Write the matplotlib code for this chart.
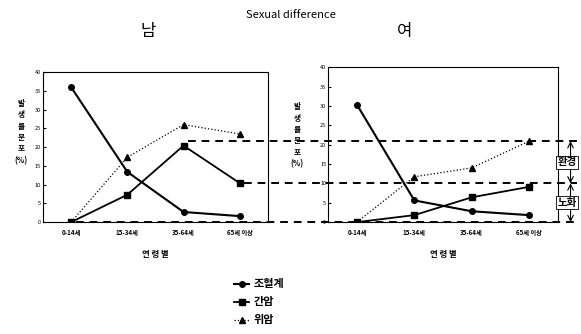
import matplotlib.pyplot as plt
from matplotlib.lines import Line2D

plt.rcParams['font.family'] = ['Noto Sans CJK KR', 'DejaVu Sans']

AGE_GROUPS = ["0-14세", "15-34세", "35-64세", "65세 이상"]
SERIES     = ["조혈계", "간암", "위암"]
YLABEL     = ["발", "생", "률", "분", "포", "(%)"]

# incidence share (%)
male_blood   = [36.0, 13.4, 2.7, 1.6]
male_liver   = [0.0, 7.3, 20.4, 10.4]
male_stomach = [0.0, 17.3, 26.0, 23.5]

female_blood   = [30.3, 5.6, 2.8, 1.8]
female_liver   = [0.0, 1.8, 6.4, 9.1]
female_stomach = [0.0, 11.7, 14.0, 20.9]

REF_LEVELS  = [20.9, 10.0, 0.0]      # dashed guide lines (female axis units)
REF_START   = [2, 3, 0]              # male x index each guide starts from
BAND_LABELS = ["환경", "노화"]

STYLES = [dict(marker="o", ls="-",  lw=1.5, ms=4),
          dict(marker="s", ls="-",  lw=1.3, ms=4),
          dict(marker="^", ls=":",  lw=0.9, ms=4)]

fig = plt.figure(figsize=(5.81, 3.34), dpi=100)
ax_m = fig.add_axes([0.074, 0.335, 0.387, 0.449])
ax_f = fig.add_axes([0.565, 0.335, 0.395, 0.464])

x = range(len(AGE_GROUPS))
handles = []
for ax, data in [(ax_m, [male_blood, male_liver, male_stomach]),
                 (ax_f, [female_blood, female_liver, female_stomach])]:
    handles = []
    for vals, st in zip(data, STYLES):
        h, = ax.plot(x, vals, color="black", **st)
        handles.append(h)
    ax.set_xlim(-0.5, 3.5)
    ax.set_ylim(0, 40)
    ax.set_yticks(range(0, 41, 5))
    ax.set_xticks(list(x))
    ax.set_xticklabels(AGE_GROUPS, fontsize=4.5, fontweight="bold")
    ax.tick_params(axis="y", labelsize=4, length=2, direction="in", pad=1.5)
    ax.tick_params(axis="x", length=0, pad=5)
    for sp in ax.spines.values():
        sp.set_linewidth(0.8)
    ax.set_xlabel("연 령 별", fontsize=6, fontweight="bold", labelpad=10)

# stacked vertical y labels, one glyph per row
for xl, ytop in [(0.036, 0.690), (0.511, 0.680)]:
    for k, ch in enumerate(YLABEL):
        fig.text(xl, ytop - k * 0.034, ch, fontsize=5.5, fontweight="bold",
                 ha="center", va="center")

fig.text(0.5, 0.955, "Sexual difference", fontsize=8, ha="center", va="center")
fig.text(0.255, 0.905, "남", fontsize=12, ha="center", va="center")
fig.text(0.697, 0.905, "여", fontsize=12, ha="center", va="center")

# dashed guide lines spanning both panels
to_fig = fig.transFigure.inverted()
x_end = 0.993
ys = []
for lvl, i0 in zip(REF_LEVELS, REF_START):
    x0 = to_fig.transform(ax_m.transData.transform((i0, 0)))[0] + 0.008
    y0 = to_fig.transform(ax_f.transData.transform((0, lvl)))[1]
    ys.append(y0)
    fig.add_artist(Line2D([x0, x_end], [y0, y0], transform=fig.transFigure,
                          color="black", lw=1.4, ls=(0, (4, 3))))

# dimension arrows with band labels
xa = 0.982
for (ya, yb), lab in zip(zip(ys[:-1], ys[1:]), BAND_LABELS):
    fig.add_artist(plt.Annotation("", xy=(xa, ya), xytext=(xa, yb),
                                  xycoords="figure fraction",
                                  arrowprops=dict(arrowstyle="<->", lw=0.8,
                                                  color="black",
                                                  shrinkA=0, shrinkB=0)))
    fig.text(0.976, (ya + yb) / 2, lab, fontsize=7.5, fontweight="bold",
             ha="center", va="center",
             bbox=dict(boxstyle="square,pad=0.15", fc="white", ec="black", lw=0.6))

fig.legend(handles, SERIES, loc="center", bbox_to_anchor=(0.446, 0.096),
           frameon=False, handlelength=1.3, handletextpad=0.4,
           labelspacing=0.45, prop=dict(size=8, weight="bold"))

fig.savefig("out.png", dpi=100)
